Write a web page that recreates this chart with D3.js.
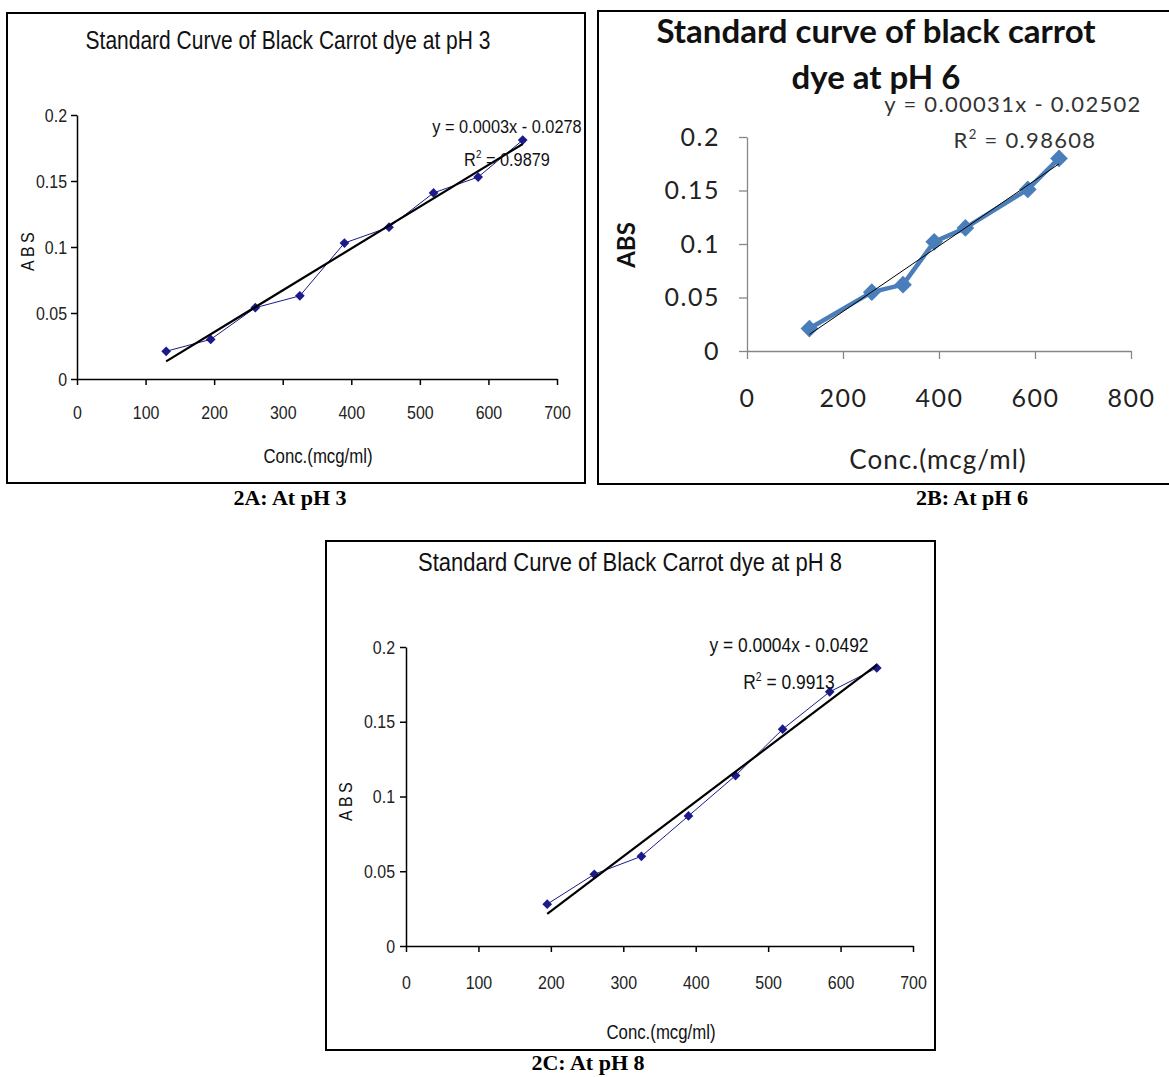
<!DOCTYPE html>
<html><head><meta charset="utf-8">
<script src="https://cdn.jsdelivr.net/npm/d3@7"></script>
<style>body{margin:0;background:#fff}svg{display:block}</style>
</head><body>
<svg id="chart" width="1169" height="1077"></svg>
<script>
// ---- data ----
const concA = [130, 195, 260, 325, 390, 455, 520, 585, 650];
const absA  = [0.021, 0.030, 0.054, 0.063, 0.103, 0.115, 0.141, 0.153, 0.181];
const concB = [130, 260, 325, 390, 455, 585, 650];
const absB  = [0.021, 0.055, 0.062, 0.102, 0.115, 0.151, 0.180];
const concC = [195, 260, 325, 390, 455, 520, 585, 650];
const absC  = [0.028, 0.048, 0.060, 0.087, 0.114, 0.145, 0.170, 0.186];
const yTicks   = [0, 0.05, 0.1, 0.15, 0.2];
const xTicksAC = [0, 100, 200, 300, 400, 500, 600, 700];
const xTicksB  = [0, 200, 400, 600, 800];
const titles   = ["Standard Curve of Black Carrot dye at pH 3",
                  ["Standard curve of black carrot", "dye at pH 6"],
                  "Standard Curve of Black Carrot dye at pH 8"];
const equations = ["y = 0.0003x - 0.0278", "y = 0.00031x - 0.02502", "y = 0.0004x - 0.0492"];
const r2Values  = ["0.9879", "0.98608", "0.9913"];
const captions  = ["2A: At pH 3", "2B: At pH 6", "2C: At pH 8"];

const svg = d3.select("#chart");
const narrow = "'Liberation Sans','Arial',sans-serif";
const calibri = "Lato,'Open Sans',sans-serif";

function fit(xs, ys) {
  const mx = d3.mean(xs), my = d3.mean(ys);
  let sxy = 0, sxx = 0;
  xs.forEach((x, i) => { sxy += (x - mx) * (ys[i] - my); sxx += (x - mx) ** 2; });
  const b = sxy / sxx;
  return { b, a: my - b * mx };
}

function txt(g, x, y, sx, opts) {
  const t = g.append("text")
    .attr("transform", `translate(${x},${y})${opts.rot ? " rotate(-90)" : ""} scale(${sx},1)`)
    .attr("text-anchor", opts.anchor || "middle").attr("fill", opts.fill || "#111")
    .style("font-family", opts.font).style("font-size", opts.fs + "px")
    .style("font-weight", opts.w || "normal").style("letter-spacing", opts.sp || "0px");
  if (opts.text != null) t.text(opts.text);
  return t;
}

function panel(cfg) {
  const g = svg.append("g");
  g.append("rect").attr("x", cfg.box[0]).attr("y", cfg.box[1])
    .attr("width", cfg.box[2]).attr("height", cfg.box[3])
    .attr("fill", "#fff").attr("stroke", "#000").attr("stroke-width", 2);

  const x = d3.scaleLinear().domain(cfg.xDomain).range([cfg.plot.l, cfg.plot.r]);
  const y = d3.scaleLinear().domain([0, 0.2]).range([cfg.plot.b, cfg.plot.t]);
  const sx = cfg.sx;

  const ya = g.append("g").attr("transform", `translate(${cfg.plot.l},0)`)
    .call(d3.axisLeft(y).tickValues(yTicks).tickSize(cfg.tick).tickPadding(cfg.yPad)
      .tickSizeOuter(0).tickFormat(d => d === 0 ? "0" : String(+d.toFixed(2))));
  const xa = g.append("g").attr("transform", `translate(0,${cfg.plot.b})`)
    .call(d3.axisBottom(x).tickValues(cfg.xTicks).tickSize(cfg.tick).tickPadding(cfg.xPad)
      .tickSizeOuter(0).tickFormat(d3.format("d")));
  [ya, xa].forEach(a => {
    a.select(".domain").attr("stroke", cfg.axisColor).attr("stroke-width", cfg.axisW);
    a.selectAll(".tick line").attr("stroke", cfg.axisColor).attr("stroke-width", cfg.axisW);
    a.selectAll(".tick text").attr("fill", cfg.textColor)
      .style("font-family", cfg.font).style("font-size", cfg.tickFs + "px")
      .style("letter-spacing", cfg.tickSp);
  });
  ya.selectAll(".tick text").attr("x", -(cfg.tick + cfg.yPad) / sx).attr("transform", `scale(${sx},1)`);
  xa.selectAll(".tick text").attr("transform", `scale(${sx},1)`);

  const tl = Array.isArray(cfg.title) ? cfg.title : [cfg.title];
  tl.forEach((t, i) => txt(g, cfg.titlePos[0], cfg.titlePos[1] + i * cfg.titleLH, cfg.titleSx,
    { font: cfg.font, fs: cfg.titleFs, w: cfg.titleW, text: t }));

  txt(g, cfg.yLab[0], cfg.yLab[1], sx, { rot: true, font: cfg.font, fs: cfg.yLabFs, w: cfg.yLabW,
    sp: cfg.yLabSp, text: "ABS" });
  txt(g, cfg.xLab[0], cfg.xLab[1], sx, { font: cfg.font, fs: cfg.labFs, w: cfg.labW,
    sp: cfg.labSp, fill: cfg.labColor, text: "Conc.(mcg/ml)" });

  const pts = cfg.xs.map((v, i) => [v, cfg.ys[i]]);
  g.append("path").datum(pts)
    .attr("d", d3.line().x(d => x(d[0])).y(d => y(d[1])))
    .attr("fill", "none").attr("stroke", cfg.color).attr("stroke-width", cfg.lineW)
    .attr("stroke-linejoin", "round");
  g.selectAll(".mk").data(pts).join("path")
    .attr("transform", d => `translate(${x(d[0])},${y(d[1])})`)
    .attr("d", d3.symbol(d3.symbolDiamond2, cfg.mSize))
    .attr("fill", cfg.color);

  const f = fit(cfg.xs, cfg.ys);
  const x0 = d3.min(cfg.xs), x1 = d3.max(cfg.xs);
  g.append("line").attr("x1", x(x0)).attr("y1", y(f.a + f.b * x0))
    .attr("x2", x(x1)).attr("y2", y(f.a + f.b * x1))
    .attr("stroke", "#000").attr("stroke-width", cfg.trendW);

  txt(g, cfg.eqPos[0], cfg.eqPos[1], cfg.eqSx, { font: cfg.font, fs: cfg.eqFs, sp: cfg.eqSp,
    fill: cfg.eqColor, text: cfg.eq });
  const r = txt(g, cfg.r2Pos[0], cfg.r2Pos[1], cfg.eqSx, { font: cfg.font, fs: cfg.eqFs, sp: cfg.eqSp,
    fill: cfg.eqColor });
  r.append("tspan").text("R");
  r.append("tspan").attr("dy", -cfg.eqFs * 0.4).style("font-size", (cfg.eqFs * 0.6) + "px").text("2");
  r.append("tspan").attr("dy", cfg.eqFs * 0.4).text(" = " + cfg.r2);

  txt(g, cfg.cap[0], cfg.cap[1], 1.05, { font: "'Liberation Serif','Times New Roman',serif",
    fs: 21, w: "bold", fill: "#000", text: cfg.caption });
}

const narrowStyle = {
  font: narrow, sx: 0.84, axisColor: "#000", axisW: 1.5, textColor: "#222", tick: 6, tickSp: "0px",
  tickFs: 19, titleFs: 25, titleSx: 0.84, titleW: "normal", titleLH: 0,
  labFs: 20, labW: "normal", labSp: "0px", labColor: "#111",
  yLabFs: 19, yLabW: "normal", yLabSp: "4px", eqColor: "#111", eqSp: "0px", eqSx: 0.86,
  color: "#1a1a8a", lineW: 1, mSize: 60, trendW: 2.2
};

panel(Object.assign({}, narrowStyle, {
  box: [7, 13, 578, 470], plot: { l: 77, r: 557, t: 115, b: 379 }, xDomain: [0, 700],
  xTicks: xTicksAC, yPad: 4, xPad: 21, xs: concA, ys: absA,
  title: titles[0], titlePos: [288, 49], yLab: [34, 250], xLab: [318, 463],
  eq: equations[0], eqPos: [507, 133], r2: r2Values[0], r2Pos: [507, 166], eqFs: 19,
  caption: captions[0], cap: [290, 505]
}));

panel({
  font: calibri, sx: 1, axisColor: "#868686", axisW: 1.3, textColor: "#222", tick: 8, tickSp: "1.5px",
  tickFs: 25, titleFs: 33, titleSx: 1, titleW: "bold", titleLH: 46,
  labFs: 26, labW: "normal", labSp: "1px", labColor: "#222",
  yLabFs: 24, yLabW: "bold", yLabSp: "0px", eqColor: "#333", eqSp: "1.3px", eqSx: 1,
  color: "#4a7ebb", lineW: 4.5, mSize: 200, trendW: 1,
  box: [598, 11, 572, 473], plot: { l: 747, r: 1131, t: 137, b: 351 }, xDomain: [0, 800],
  xTicks: xTicksB, yPad: 19, xPad: 30, xs: concB, ys: absB,
  title: titles[1], titlePos: [876, 43], yLab: [635, 245], xLab: [938, 469],
  eq: equations[1], eqPos: [1013, 112], r2: r2Values[1], r2Pos: [1025, 148], eqFs: 22,
  caption: captions[1], cap: [972, 505]
});

panel(Object.assign({}, narrowStyle, {
  box: [326, 541, 609, 509], plot: { l: 406, r: 913, t: 647, b: 946 }, xDomain: [0, 700],
  xTicks: xTicksAC, yPad: 5, xPad: 24, xs: concC, ys: absC, titleSx: 0.88, eqSx: 0.87,
  title: titles[2], titlePos: [630, 571], yLab: [352, 800], xLab: [661, 1039],
  eq: equations[2], eqPos: [789, 652], r2: r2Values[2], r2Pos: [789, 689], eqFs: 20,
  caption: captions[2], cap: [588, 1070]
}));
</script>
</body></html>
